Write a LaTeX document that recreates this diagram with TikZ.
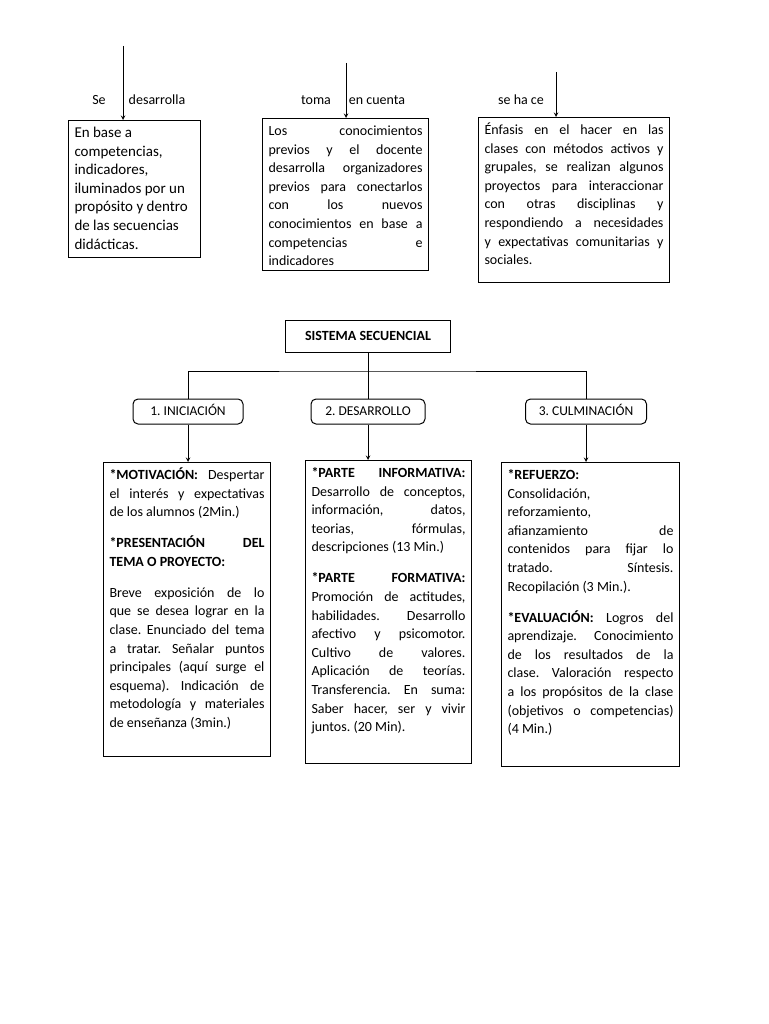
\documentclass[tikz,border=0pt]{standalone}
\usepackage{fontspec}
\setmainfont{Carlito}
\tolerance=10000
\hbadness=10000
\hyphenpenalty=10000
\frenchspacing
\newcommand{\caja}[3]{\parbox[t][#1pt][t]{#2pt}{#3}}

\begin{document}
\begin{tikzpicture}[x=1pt,y=-1pt,line width=1pt,
    txt/.style={font=\fontsize{14}{18.6}\selectfont},
    cajabox/.style={txt,draw,anchor=north west,inner xsep=6pt,inner ysep=4pt},
    etapa/.style={draw,rounded corners=5pt,minimum height=25pt,text height=9.5pt,text depth=2.5pt,font=\fontsize{13.5}{16}\selectfont}]
    \useasboundingbox (0,0) rectangle (768,1024);
    \node[txt] (se) at (99,100) {Se};
    \node[txt] (desa) at (157,100) {desarrolla};
    \node[txt] (toma) at (316,100) {toma};
    \node[txt] (encu) at (377,100) {en cuenta};
    \node[txt] (seha) at (521,100) {se ha ce};
    \node[cajabox,font=\fontsize{15}{18.6}\selectfont] (base) at (68,120) {\caja{129}{120}{\raggedright\strut En base a\\ competencias,\\ indicadores,\\ iluminados por un\\ propósito y dentro\\ de las secuencias\\ didácticas.}};
    \node[cajabox] (previos) at (262,118) {\caja{144}{154}{\strut Los conocimientos\linebreak previos y el docente\linebreak desarrolla organizadores\linebreak previos para conectarlos\linebreak con los nuevos\linebreak conocimientos en base a\linebreak competencias e\linebreak indicadores}};
    \node[cajabox] (enfasis) at (478,117) {\caja{157}{179}{\strut Énfasis en el hacer en las\linebreak clases con métodos activos y\linebreak grupales, se realizan algunos\linebreak proyectos para interaccionar\linebreak con otras disciplinas y\linebreak respondiendo a necesidades\linebreak y expectativas comunitarias y\linebreak sociales.}};
    \coordinate (a1) at (123,46);
    \coordinate (a2) at (346,63);
    \coordinate (a3) at (556,72);
    \draw[-stealth] (a1) -- (a1 |- base.north);
    \draw[-stealth] (a2) -- (a2 |- previos.north);
    \draw[-stealth] (a3) -- (a3 |- enfasis.north);

    \node[draw,minimum width=165pt,minimum height=32pt,font=\fontsize{14}{16}\selectfont\bfseries] (sis) at (368,336) {SISTEMA SECUENCIAL};
    \node[etapa,minimum width=110pt] (ini) at (188,411.5) {1. INICIACIÓN};
    \node[etapa,minimum width=114pt] (des) at (368,411.5) {2. DESARROLLO};
    \node[etapa,minimum width=121pt] (cul) at (586,411.5) {3. CULMINACIÓN};
    \coordinate (bar) at (368,371);
    \draw (sis) -- (des);
    \draw (ini) |- (bar) -| (cul);

    \node[cajabox] (moti) at (103,462) {\caja{286}{155}{\strut\textbf{*MOTIVACIÓN:} Despertar\linebreak el interés y expectativas\linebreak de los alumnos (2Min.)\par\vspace{12.4pt}
    \textbf{*PRESENTACIÓN DEL\linebreak TEMA O PROYECTO:}\par\vspace{12.4pt}
    Breve exposición de lo\linebreak que se desea lograr en la\linebreak clase. Enunciado del tema\linebreak a tratar. Señalar puntos\linebreak principales (aquí surge el\linebreak esquema). Indicación de\linebreak metodología y materiales\linebreak de enseñanza (3min.)}};
    \node[cajabox] (info) at (305,460) {\caja{295}{154}{\strut\textbf{*PARTE INFORMATIVA:}\linebreak Desarrollo de conceptos,\linebreak información, datos,\linebreak teorias, fórmulas,\linebreak descripciones (13 Min.)\par\vspace{12.4pt}
    \textbf{*PARTE FORMATIVA:}\linebreak Promoción de actitudes,\linebreak habilidades. Desarrollo\linebreak afectivo y psicomotor.\linebreak Cultivo de valores.\linebreak Aplicación de teorías.\linebreak Transferencia. En suma:\linebreak Saber hacer, ser y vivir\linebreak juntos. (20 Min).}};
    \node[cajabox] (refu) at (501,462) {\caja{296}{166}{\strut\textbf{*REFUERZO:}\linebreak Consolidación,\linebreak reforzamiento,\linebreak afianzamiento de\linebreak contenidos para fijar lo\linebreak tratado. Síntesis.\linebreak Recopilación (3 Min.).\par\vspace{12.4pt}
    \textbf{*EVALUACIÓN:} Logros del\linebreak aprendizaje. Conocimiento\linebreak de los resultados de la\linebreak clase. Valoración respecto\linebreak a los propósitos de la clase\linebreak (objetivos o competencias)\linebreak (4 Min.)}};
    \draw[-stealth] (ini) -- (ini |- moti.north);
    \draw[-stealth] (des) -- (des |- info.north);
    \draw[-stealth] (cul) -- (cul |- refu.north);
\end{tikzpicture}
\end{document}
